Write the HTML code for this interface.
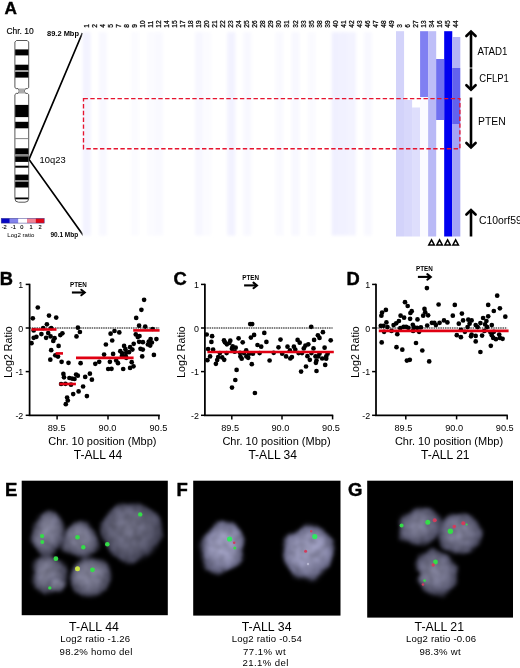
<!DOCTYPE html>
<html><head><meta charset="utf-8"><title>Figure</title>
<style>
html,body{margin:0;padding:0;background:#fff;}
svg{display:block;will-change:transform;}
text{font-family:"Liberation Sans",sans-serif;fill:#000;}
.b{font-weight:bold;}
</style></head><body>
<svg width="520" height="668" viewBox="0 0 520 668">
<defs>
<filter id="bl1" x="-10%" y="-10%" width="120%" height="120%" color-interpolation-filters="sRGB"><feGaussianBlur stdDeviation="1.6" result="b"/><feTurbulence type="fractalNoise" baseFrequency="0.045" numOctaves="2" seed="7" result="t"/><feDisplacementMap in="b" in2="t" scale="9" xChannelSelector="R" yChannelSelector="G" result="d"/><feTurbulence type="fractalNoise" baseFrequency="0.12" numOctaves="2" seed="3" result="t2"/><feColorMatrix in="t2" type="matrix" values="0 0 0 0 1  0 0 0 0 1  0 0 0 0 1  0.9 0 0 0 0.35" result="m"/><feComposite in="d" in2="m" operator="arithmetic" k1="0.55" k2="0.6" k3="0" k4="0" result="c"/><feGaussianBlur in="c" stdDeviation="1.5"/></filter>
<filter id="bl2" x="-50%" y="-50%" width="200%" height="200%"><feGaussianBlur stdDeviation="0.6"/></filter>
<filter id="bl4" x="-5%" y="-5%" width="110%" height="110%"><feGaussianBlur stdDeviation="1.6"/></filter>
<filter id="bl3" x="-5%" y="-5%" width="110%" height="110%"><feGaussianBlur stdDeviation="0.35"/></filter>
<radialGradient id="cell" cx="50%" cy="50%" r="52%" fx="40%" fy="38%"><stop offset="0" stop-color="#7c7c91"/><stop offset="0.55" stop-color="#6a6a7f"/><stop offset="0.85" stop-color="#4c4c5f"/><stop offset="1" stop-color="#2a2a38"/></radialGradient>
<radialGradient id="cellbig" cx="50%" cy="50%" r="52%" fx="42%" fy="40%"><stop offset="0" stop-color="#6a6a7e"/><stop offset="0.6" stop-color="#5c5c70"/><stop offset="0.88" stop-color="#444456"/><stop offset="1" stop-color="#242432"/></radialGradient>
<radialGradient id="cellb" cx="50%" cy="50%" r="52%" fx="45%" fy="42%"><stop offset="0" stop-color="#9494b2"/><stop offset="0.6" stop-color="#8484a2"/><stop offset="0.88" stop-color="#62627e"/><stop offset="1" stop-color="#38384c"/></radialGradient>
<radialGradient id="celld" cx="50%" cy="50%" r="52%" fx="45%" fy="42%"><stop offset="0" stop-color="#7a7a91"/><stop offset="0.6" stop-color="#68687f"/><stop offset="0.88" stop-color="#4c4c61"/><stop offset="1" stop-color="#2a2a3a"/></radialGradient>
</defs>
<rect width="520" height="668" fill="#fff"/>

<g id="panelA">
<text class="b" x="4.6" y="13.8" font-size="17.2" stroke="#000" stroke-width="0.4">A</text>
<text x="6.4" y="34.3" font-size="9.6" textLength="27.4" lengthAdjust="spacingAndGlyphs" stroke="#000" stroke-width="0.15">Chr. 10</text>
<text class="b" x="47" y="36.4" font-size="7.2" textLength="32" lengthAdjust="spacingAndGlyphs">89.2 Mbp</text>
<text class="b" x="50.4" y="236.8" font-size="7.2" textLength="27.8" lengthAdjust="spacingAndGlyphs">90.1 Mbp</text>
<text x="39.6" y="162.8" font-size="9.6" textLength="26" lengthAdjust="spacingAndGlyphs">10q23</text>
<path d="M82.4 33 L29.0 159.4 L83.2 235.2" fill="none" stroke="#000" stroke-width="1.7" stroke-linejoin="miter"/>
<g>
<path d="M14.9 42 L16.4 40.5 H27.2 L28.7 42 V87.6 L27.4 88.6 H25.6 L24.2 91 L25.6 93.4 H27.4 L28.7 94.6 V198.5 Q28.7 202.2 25 202.2 H18.6 Q14.9 202.2 14.9 198.5 V94.6 L16.2 93.4 H18 L19.4 91 L18 88.6 H16.2 L14.9 87.6 Z" fill="#fff" stroke="#3a3a3a" stroke-width="0.85"/>
<rect x="15.2" y="49.4" width="13.2" height="6.0" fill="#000"/>
<rect x="15.2" y="64.7" width="13.2" height="5.8" fill="#000"/>
<rect x="15.2" y="70.5" width="13.2" height="1.3" fill="#bbb"/>
<rect x="15.2" y="71.8" width="13.2" height="5.8" fill="#000"/>
<rect x="15.2" y="104.9" width="13.2" height="12.2" fill="#000"/>
<rect x="15.2" y="121.8" width="13.2" height="6.5" fill="#000"/>
<rect x="15.2" y="138.2" width="13.2" height="0.9" fill="#777"/>
<rect x="15.2" y="148.3" width="13.2" height="6.2" fill="#000"/>
<rect x="15.2" y="154.5" width="13.2" height="1.9" fill="#888"/>
<rect x="15.2" y="156.4" width="13.2" height="5.5" fill="#000"/>
<rect x="15.2" y="165.7" width="13.2" height="2.0" fill="#000"/>
<rect x="15.2" y="174.6" width="13.2" height="5.5" fill="#000"/>
<rect x="15.2" y="180.1" width="13.2" height="1.8" fill="#888"/>
<rect x="15.2" y="181.9" width="13.2" height="5.6" fill="#000"/>
<rect x="15.2" y="197.5" width="13.2" height="1.8" fill="#000"/>
<path d="M18 88.6 H25.6 L24.2 91 L25.6 93.4 H18 L19.4 91 Z" fill="#aaa"/>
</g>
<rect x="1.2" y="218.3" width="8.6" height="4.8" fill="#0808c4"/>
<rect x="9.8" y="218.3" width="8.6" height="4.8" fill="#8484ec"/>
<rect x="18.4" y="218.3" width="8.6" height="4.8" fill="#ffffff"/>
<rect x="27.0" y="218.3" width="8.6" height="4.8" fill="#f08496"/>
<rect x="35.6" y="218.3" width="8.6" height="4.8" fill="#e00818"/>
<rect x="1.2" y="218.3" width="43" height="4.8" fill="none" stroke="#3a3a90" stroke-width="0.5"/>
<text x="4.2" y="229.3" font-size="5.7" text-anchor="middle" stroke="#000" stroke-width="0.12">-2</text>
<text x="13.4" y="229.3" font-size="5.7" text-anchor="middle" stroke="#000" stroke-width="0.12">-1</text>
<text x="21.8" y="229.3" font-size="5.7" text-anchor="middle" stroke="#000" stroke-width="0.12">0</text>
<text x="31.1" y="229.3" font-size="5.7" text-anchor="middle" stroke="#000" stroke-width="0.12">1</text>
<text x="40" y="229.3" font-size="5.7" text-anchor="middle" stroke="#000" stroke-width="0.12">2</text>
<text x="7.3" y="236.5" font-size="5.4" textLength="27" lengthAdjust="spacingAndGlyphs">Log2 ratio</text>
<rect x="82.7" y="31.2" width="377.6" height="205.3" fill="#ffffff"/>
<g filter="url(#bl4)">
<rect x="82.70" y="32.2" width="8.03" height="203.3" fill="#f3f3ff"/>
<rect x="98.77" y="32.2" width="8.03" height="203.3" fill="#f8f8ff"/>
<rect x="130.90" y="32.2" width="8.03" height="203.3" fill="#fbfbff"/>
<rect x="146.96" y="32.2" width="8.03" height="203.3" fill="#fbfbff"/>
<rect x="155.00" y="32.2" width="8.03" height="203.3" fill="#f9f9ff"/>
<rect x="195.16" y="32.2" width="8.03" height="203.3" fill="#f7f7ff"/>
<rect x="203.19" y="32.2" width="8.03" height="203.3" fill="#fbfbff"/>
<rect x="227.29" y="32.2" width="8.03" height="203.3" fill="#f2f2ff"/>
<rect x="243.36" y="32.2" width="8.03" height="203.3" fill="#f8f8ff"/>
<rect x="275.49" y="32.2" width="8.03" height="203.3" fill="#f9f9ff"/>
<rect x="291.56" y="32.2" width="8.03" height="203.3" fill="#f8f8ff"/>
<rect x="307.62" y="32.2" width="8.03" height="203.3" fill="#fafaff"/>
<rect x="331.72" y="32.2" width="8.03" height="203.3" fill="#f0f0ff"/>
<rect x="339.76" y="32.2" width="8.03" height="203.3" fill="#f1f1ff"/>
<rect x="347.79" y="32.2" width="8.03" height="203.3" fill="#f3f3ff"/>
<rect x="363.85" y="32.2" width="8.03" height="203.3" fill="#f8f8ff"/>
</g>
<g filter="url(#bl3)">
<rect x="395.99" y="31.2" width="8.08" height="205.3" fill="#d3d3fa"/>
<rect x="404.02" y="100" width="8.08" height="136.5" fill="#d8d8fb"/>
<rect x="412.05" y="107.5" width="8.08" height="129.0" fill="#dedefc"/>
<rect x="420.09" y="31.2" width="8.08" height="65.8" fill="#8080f2"/>
<rect x="420.09" y="97" width="8.08" height="139.5" fill="#fbfbff"/>
<rect x="428.12" y="31.2" width="8.08" height="68.8" fill="#bebef8"/>
<rect x="428.12" y="100" width="8.08" height="136.5" fill="#b9b9f6"/>
<rect x="436.15" y="59" width="8.08" height="61.0" fill="#7070f0"/>
<rect x="444.18" y="31.2" width="8.08" height="205.3" fill="#0404f0"/>
<rect x="452.22" y="37" width="8.08" height="31.0" fill="#b4b4f6"/>
<rect x="452.22" y="68" width="8.08" height="56.0" fill="#6262ee"/>
<rect x="452.22" y="124" width="8.08" height="112.5" fill="#a4a4f6"/>
</g>
<text transform="translate(88.67 27.7) rotate(-90)" font-size="6.6" stroke="#000" stroke-width="0.25">1</text>
<text transform="translate(96.70 27.7) rotate(-90)" font-size="6.6" stroke="#000" stroke-width="0.25">2</text>
<text transform="translate(104.73 27.7) rotate(-90)" font-size="6.6" stroke="#000" stroke-width="0.25">4</text>
<text transform="translate(112.77 27.7) rotate(-90)" font-size="6.6" stroke="#000" stroke-width="0.25">5</text>
<text transform="translate(120.80 27.7) rotate(-90)" font-size="6.6" stroke="#000" stroke-width="0.25">7</text>
<text transform="translate(128.83 27.7) rotate(-90)" font-size="6.6" stroke="#000" stroke-width="0.25">8</text>
<text transform="translate(136.86 27.7) rotate(-90)" font-size="6.6" stroke="#000" stroke-width="0.25">9</text>
<text transform="translate(144.90 27.7) rotate(-90)" font-size="6.6" stroke="#000" stroke-width="0.25">10</text>
<text transform="translate(152.93 27.7) rotate(-90)" font-size="6.6" stroke="#000" stroke-width="0.25">11</text>
<text transform="translate(160.96 27.7) rotate(-90)" font-size="6.6" stroke="#000" stroke-width="0.25">12</text>
<text transform="translate(169.00 27.7) rotate(-90)" font-size="6.6" stroke="#000" stroke-width="0.25">14</text>
<text transform="translate(177.03 27.7) rotate(-90)" font-size="6.6" stroke="#000" stroke-width="0.25">15</text>
<text transform="translate(185.06 27.7) rotate(-90)" font-size="6.6" stroke="#000" stroke-width="0.25">17</text>
<text transform="translate(193.10 27.7) rotate(-90)" font-size="6.6" stroke="#000" stroke-width="0.25">18</text>
<text transform="translate(201.13 27.7) rotate(-90)" font-size="6.6" stroke="#000" stroke-width="0.25">19</text>
<text transform="translate(209.16 27.7) rotate(-90)" font-size="6.6" stroke="#000" stroke-width="0.25">20</text>
<text transform="translate(217.19 27.7) rotate(-90)" font-size="6.6" stroke="#000" stroke-width="0.25">21</text>
<text transform="translate(225.23 27.7) rotate(-90)" font-size="6.6" stroke="#000" stroke-width="0.25">22</text>
<text transform="translate(233.26 27.7) rotate(-90)" font-size="6.6" stroke="#000" stroke-width="0.25">23</text>
<text transform="translate(241.29 27.7) rotate(-90)" font-size="6.6" stroke="#000" stroke-width="0.25">24</text>
<text transform="translate(249.33 27.7) rotate(-90)" font-size="6.6" stroke="#000" stroke-width="0.25">25</text>
<text transform="translate(257.36 27.7) rotate(-90)" font-size="6.6" stroke="#000" stroke-width="0.25">26</text>
<text transform="translate(265.39 27.7) rotate(-90)" font-size="6.6" stroke="#000" stroke-width="0.25">28</text>
<text transform="translate(273.43 27.7) rotate(-90)" font-size="6.6" stroke="#000" stroke-width="0.25">29</text>
<text transform="translate(281.46 27.7) rotate(-90)" font-size="6.6" stroke="#000" stroke-width="0.25">30</text>
<text transform="translate(289.49 27.7) rotate(-90)" font-size="6.6" stroke="#000" stroke-width="0.25">31</text>
<text transform="translate(297.52 27.7) rotate(-90)" font-size="6.6" stroke="#000" stroke-width="0.25">32</text>
<text transform="translate(305.56 27.7) rotate(-90)" font-size="6.6" stroke="#000" stroke-width="0.25">33</text>
<text transform="translate(313.59 27.7) rotate(-90)" font-size="6.6" stroke="#000" stroke-width="0.25">35</text>
<text transform="translate(321.62 27.7) rotate(-90)" font-size="6.6" stroke="#000" stroke-width="0.25">38</text>
<text transform="translate(329.66 27.7) rotate(-90)" font-size="6.6" stroke="#000" stroke-width="0.25">39</text>
<text transform="translate(337.69 27.7) rotate(-90)" font-size="6.6" stroke="#000" stroke-width="0.25">40</text>
<text transform="translate(345.72 27.7) rotate(-90)" font-size="6.6" stroke="#000" stroke-width="0.25">41</text>
<text transform="translate(353.76 27.7) rotate(-90)" font-size="6.6" stroke="#000" stroke-width="0.25">42</text>
<text transform="translate(361.79 27.7) rotate(-90)" font-size="6.6" stroke="#000" stroke-width="0.25">43</text>
<text transform="translate(369.82 27.7) rotate(-90)" font-size="6.6" stroke="#000" stroke-width="0.25">46</text>
<text transform="translate(377.85 27.7) rotate(-90)" font-size="6.6" stroke="#000" stroke-width="0.25">47</text>
<text transform="translate(385.89 27.7) rotate(-90)" font-size="6.6" stroke="#000" stroke-width="0.25">48</text>
<text transform="translate(393.92 27.7) rotate(-90)" font-size="6.6" stroke="#000" stroke-width="0.25">49</text>
<text transform="translate(401.95 27.7) rotate(-90)" font-size="6.6" stroke="#000" stroke-width="0.25">3</text>
<text transform="translate(409.99 27.7) rotate(-90)" font-size="6.6" stroke="#000" stroke-width="0.25">6</text>
<text transform="translate(418.02 27.7) rotate(-90)" font-size="6.6" stroke="#000" stroke-width="0.25">27</text>
<text transform="translate(426.05 27.7) rotate(-90)" font-size="6.6" stroke="#000" stroke-width="0.25">13</text>
<text transform="translate(434.09 27.7) rotate(-90)" font-size="6.6" stroke="#000" stroke-width="0.25">34</text>
<text transform="translate(442.12 27.7) rotate(-90)" font-size="6.6" stroke="#000" stroke-width="0.25">16</text>
<text transform="translate(450.15 27.7) rotate(-90)" font-size="6.6" stroke="#000" stroke-width="0.25">45</text>
<text transform="translate(458.18 27.7) rotate(-90)" font-size="6.6" stroke="#000" stroke-width="0.25">44</text>
<rect x="83.5" y="98.6" width="376.4" height="50.1" fill="none" stroke="#e6142f" stroke-width="1.35" stroke-dasharray="4.4 2.4"/>
<path d="M431.54 239.9 L434.29 245.0 H428.79 Z" fill="#fff" stroke="#000" stroke-width="1.5" stroke-linejoin="miter"/>
<path d="M439.57 239.9 L442.32 245.0 H436.82 Z" fill="#fff" stroke="#000" stroke-width="1.5" stroke-linejoin="miter"/>
<path d="M447.60 239.9 L450.35 245.0 H444.85 Z" fill="#fff" stroke="#000" stroke-width="1.5" stroke-linejoin="miter"/>
<path d="M455.63 239.9 L458.38 245.0 H452.88 Z" fill="#fff" stroke="#000" stroke-width="1.5" stroke-linejoin="miter"/>
<path d="M471 67.6 V32" stroke="#000" stroke-width="2.6" fill="none"/>
<path d="M466.4 36 L471 31.6 L475.6 36" stroke="#000" stroke-width="2.6" fill="none" stroke-linecap="round" stroke-linejoin="miter"/>
<path d="M471 68.4 V89.2" stroke="#000" stroke-width="2.6" fill="none"/>
<path d="M466.4 85.2 L471 89.60000000000001 L475.6 85.2" stroke="#000" stroke-width="2.6" fill="none" stroke-linecap="round" stroke-linejoin="miter"/>
<path d="M471 97.5 V147" stroke="#000" stroke-width="2.6" fill="none"/>
<path d="M466.4 143 L471 147.4 L475.6 143" stroke="#000" stroke-width="2.6" fill="none" stroke-linecap="round" stroke-linejoin="miter"/>
<path d="M471 236.5 V210.5" stroke="#000" stroke-width="2.6" fill="none"/>
<path d="M466.4 214.5 L471 210.1 L475.6 214.5" stroke="#000" stroke-width="2.6" fill="none" stroke-linecap="round" stroke-linejoin="miter"/>
<text x="477.5" y="54.9" font-size="10.3" textLength="30" lengthAdjust="spacingAndGlyphs">ATAD1</text>
<text x="479.3" y="81.8" font-size="10.3" textLength="29.5" lengthAdjust="spacingAndGlyphs">CFLP1</text>
<text x="478" y="124.8" font-size="10.4">PTEN</text>
<text x="479" y="223.8" font-size="10.4">C10orf59</text>
</g>
<g>
<text class="b" x="-0.3" y="284.7" font-size="18.3" stroke="#000" stroke-width="0.45">B</text>
<path d="M29.6 283.8 V415.3 H159.79999999999998" fill="none" stroke="#000" stroke-width="1.75"/>
<path d="M25.700000000000003 284.4 H29.6" stroke="#000" stroke-width="1.5"/>
<text x="23.3" y="287.9" font-size="8.9" text-anchor="end">1</text>
<path d="M25.700000000000003 328 H29.6" stroke="#000" stroke-width="1.5"/>
<text x="23.3" y="331.5" font-size="8.9" text-anchor="end">0</text>
<path d="M25.700000000000003 371.6 H29.6" stroke="#000" stroke-width="1.5"/>
<text x="23.3" y="375.1" font-size="8.9" text-anchor="end">-1</text>
<path d="M25.700000000000003 415.3 H29.6" stroke="#000" stroke-width="1.5"/>
<text x="23.3" y="418.8" font-size="8.9" text-anchor="end">-2</text>
<path d="M57.1 415.3 V419.4" stroke="#000" stroke-width="1.5"/>
<text x="56.6" y="431.4" font-size="9.2" text-anchor="middle">89.5</text>
<path d="M108 415.3 V419.4" stroke="#000" stroke-width="1.5"/>
<text x="107.5" y="431.4" font-size="9.2" text-anchor="middle">90.0</text>
<path d="M158.9 415.3 V419.4" stroke="#000" stroke-width="1.5"/>
<text x="158.4" y="431.4" font-size="9.2" text-anchor="middle">90.5</text>
<path d="M29.6 328 H159.2" stroke="#000" stroke-width="1.0" stroke-dasharray="1.5 0.8"/>
<text transform="translate(12.2 377.8) rotate(-90)" font-size="10.6" textLength="51.5" lengthAdjust="spacing">Log2 Ratio</text>
<text class="b" x="78.4" y="286.8" font-size="7" text-anchor="middle" textLength="16.8" lengthAdjust="spacingAndGlyphs">PTEN</text>
<path d="M71.90 292.5 H84.20" stroke="#000" stroke-width="2.1" fill="none"/>
<path d="M81.30 289.7 L84.80 292.5 L81.30 295.3" stroke="#000" stroke-width="2.0" fill="none" stroke-linecap="round" stroke-linejoin="miter"/>
<g fill="#000"><circle cx="37.8" cy="307.5" r="2.35"/><circle cx="32.8" cy="318.3" r="2.35"/><circle cx="49" cy="315.6" r="2.35"/><circle cx="56.2" cy="317.6" r="2.35"/><circle cx="46.9" cy="324.3" r="2.35"/><circle cx="43.2" cy="328.1" r="2.35"/><circle cx="51.2" cy="328.1" r="2.35"/><circle cx="33.7" cy="330.4" r="2.35"/><circle cx="41.4" cy="334.1" r="2.35"/><circle cx="48.2" cy="333.1" r="2.35"/><circle cx="36.4" cy="336.8" r="2.35"/><circle cx="33.7" cy="337.8" r="2.35"/><circle cx="46.1" cy="337.8" r="2.35"/><circle cx="50.6" cy="336.4" r="2.35"/><circle cx="54.6" cy="338.2" r="2.35"/><circle cx="53.3" cy="340.9" r="2.35"/><circle cx="31.5" cy="343.2" r="2.35"/><circle cx="60.3" cy="335.1" r="2.35"/><circle cx="62.4" cy="333.3" r="2.35"/><circle cx="58.6" cy="345.9" r="2.35"/><circle cx="51.2" cy="350.2" r="2.35"/><circle cx="55.3" cy="355.3" r="2.35"/><circle cx="58" cy="356.6" r="2.35"/><circle cx="50.3" cy="359.7" r="2.35"/><circle cx="77.9" cy="327.7" r="2.35"/><circle cx="79.9" cy="332" r="2.35"/><circle cx="76.5" cy="336.4" r="2.35"/><circle cx="61.6" cy="361.8" r="2.35"/><circle cx="68.5" cy="362.8" r="2.35"/><circle cx="80.6" cy="363.2" r="2.35"/><circle cx="95.3" cy="363.8" r="2.35"/><circle cx="63.4" cy="373.9" r="2.35"/><circle cx="64" cy="377.3" r="2.35"/><circle cx="69.4" cy="378" r="2.35"/><circle cx="72.1" cy="378.6" r="2.35"/><circle cx="74.5" cy="379" r="2.35"/><circle cx="76.1" cy="374.6" r="2.35"/><circle cx="77.8" cy="375.7" r="2.35"/><circle cx="85.2" cy="376.9" r="2.35"/><circle cx="89.9" cy="373.7" r="2.35"/><circle cx="91.9" cy="379.7" r="2.35"/><circle cx="61.1" cy="384" r="2.35"/><circle cx="65.4" cy="383.8" r="2.35"/><circle cx="71" cy="384.7" r="2.35"/><circle cx="83.1" cy="386.5" r="2.35"/><circle cx="78.6" cy="391.4" r="2.35"/><circle cx="73.2" cy="394.1" r="2.35"/><circle cx="86.9" cy="396.1" r="2.35"/><circle cx="67.1" cy="397.5" r="2.35"/><circle cx="67.8" cy="400.5" r="2.35"/><circle cx="65.8" cy="404.2" r="2.35"/><circle cx="144.1" cy="299.8" r="2.35"/><circle cx="141.4" cy="309.8" r="2.35"/><circle cx="136.2" cy="317.9" r="2.35"/><circle cx="139.1" cy="325.7" r="2.35"/><circle cx="145.2" cy="326.6" r="2.35"/><circle cx="152.6" cy="329" r="2.35"/><circle cx="114.5" cy="331" r="2.35"/><circle cx="110.6" cy="333.7" r="2.35"/><circle cx="119.3" cy="332.4" r="2.35"/><circle cx="135.8" cy="334.4" r="2.35"/><circle cx="137.8" cy="337.1" r="2.35"/><circle cx="139.5" cy="336" r="2.35"/><circle cx="112.2" cy="340.5" r="2.35"/><circle cx="105.9" cy="344.5" r="2.35"/><circle cx="156.4" cy="339.1" r="2.35"/><circle cx="150.6" cy="339.1" r="2.35"/><circle cx="148.8" cy="341.5" r="2.35"/><circle cx="151.9" cy="342.5" r="2.35"/><circle cx="147.9" cy="344.5" r="2.35"/><circle cx="150.2" cy="345.6" r="2.35"/><circle cx="139.1" cy="341.8" r="2.35"/><circle cx="142.9" cy="342.2" r="2.35"/><circle cx="133.7" cy="343.8" r="2.35"/><circle cx="124.1" cy="345.9" r="2.35"/><circle cx="130.1" cy="347.2" r="2.35"/><circle cx="125.4" cy="349.2" r="2.35"/><circle cx="132.4" cy="349.6" r="2.35"/><circle cx="140.5" cy="348.8" r="2.35"/><circle cx="142.8" cy="349.6" r="2.35"/><circle cx="120.3" cy="351.2" r="2.35"/><circle cx="122.3" cy="353.3" r="2.35"/><circle cx="126.3" cy="352.6" r="2.35"/><circle cx="129" cy="352.2" r="2.35"/><circle cx="113.1" cy="353.9" r="2.35"/><circle cx="104.1" cy="354.6" r="2.35"/><circle cx="153.9" cy="354.9" r="2.35"/><circle cx="142.2" cy="356.4" r="2.35"/><circle cx="125.7" cy="356" r="2.35"/><circle cx="121.9" cy="356" r="2.35"/><circle cx="99.2" cy="361.8" r="2.35"/><circle cx="109.9" cy="361.8" r="2.35"/><circle cx="116.2" cy="360.5" r="2.35"/><circle cx="118" cy="363.2" r="2.35"/><circle cx="131.7" cy="362.2" r="2.35"/><circle cx="133.5" cy="366.3" r="2.35"/><circle cx="130.1" cy="367.9" r="2.35"/><circle cx="123.2" cy="369" r="2.35"/><circle cx="108.2" cy="369" r="2.35"/><circle cx="111.5" cy="368.8" r="2.35"/><circle cx="126.3" cy="357.8" r="2.35"/></g>
<path d="M31.5 329.5 H56.5" stroke="#e00012" stroke-width="2.6"/>
<path d="M55.6 353.4 H63" stroke="#e00012" stroke-width="2.6"/>
<path d="M59.3 384 H75.9" stroke="#e00012" stroke-width="2.6"/>
<path d="M76 357.9 H133.6" stroke="#e00012" stroke-width="2.6"/>
<path d="M133.2 330.4 H159.6" stroke="#e00012" stroke-width="2.6"/>
<text x="48.300000000000004" y="444.9" font-size="10.6" textLength="108.2" lengthAdjust="spacingAndGlyphs">Chr. 10 position (Mbp)</text>
<text x="98" y="459.1" font-size="12.1" text-anchor="middle">T-ALL 44</text>
</g>
<g>
<text class="b" x="173.6" y="284.7" font-size="18.3" stroke="#000" stroke-width="0.45">C</text>
<path d="M204.9 283.8 V415.3 H333.20000000000005" fill="none" stroke="#000" stroke-width="1.75"/>
<path d="M201.0 284.4 H204.9" stroke="#000" stroke-width="1.5"/>
<text x="198.9" y="287.9" font-size="8.9" text-anchor="end">1</text>
<path d="M201.0 328 H204.9" stroke="#000" stroke-width="1.5"/>
<text x="198.9" y="331.5" font-size="8.9" text-anchor="end">0</text>
<path d="M201.0 371.6 H204.9" stroke="#000" stroke-width="1.5"/>
<text x="198.9" y="375.1" font-size="8.9" text-anchor="end">-1</text>
<path d="M201.0 415.3 H204.9" stroke="#000" stroke-width="1.5"/>
<text x="198.9" y="418.8" font-size="8.9" text-anchor="end">-2</text>
<path d="M231.8 415.3 V419.4" stroke="#000" stroke-width="1.5"/>
<text x="230.20000000000002" y="431.4" font-size="9.2" text-anchor="middle">89.5</text>
<path d="M282 415.3 V419.4" stroke="#000" stroke-width="1.5"/>
<text x="280.4" y="431.4" font-size="9.2" text-anchor="middle">90.0</text>
<path d="M332.6 415.3 V419.4" stroke="#000" stroke-width="1.5"/>
<text x="331.0" y="431.4" font-size="9.2" text-anchor="middle">90.5</text>
<path d="M204.9 328 H332.6" stroke="#000" stroke-width="1.0" stroke-dasharray="1.5 0.8"/>
<text transform="translate(184.6 377.8) rotate(-90)" font-size="10.6" textLength="51.5" lengthAdjust="spacing">Log2 Ratio</text>
<text class="b" x="250.6" y="279.7" font-size="7" text-anchor="middle" textLength="16.8" lengthAdjust="spacingAndGlyphs">PTEN</text>
<path d="M244.10 285.4 H256.40" stroke="#000" stroke-width="2.1" fill="none"/>
<path d="M253.50 282.59999999999997 L257.00 285.4 L253.50 288.2" stroke="#000" stroke-width="2.0" fill="none" stroke-linecap="round" stroke-linejoin="miter"/>
<g fill="#000"><circle cx="250.2" cy="324.1" r="2.35"/><circle cx="252.2" cy="324.1" r="2.35"/><circle cx="206.7" cy="334.5" r="2.35"/><circle cx="212.1" cy="336.2" r="2.35"/><circle cx="211.4" cy="341.9" r="2.35"/><circle cx="264.3" cy="332.9" r="2.35"/><circle cx="254.1" cy="334.9" r="2.35"/><circle cx="250.9" cy="337.6" r="2.35"/><circle cx="238.6" cy="338.3" r="2.35"/><circle cx="266.4" cy="341.9" r="2.35"/><circle cx="224" cy="340.3" r="2.35"/><circle cx="224.9" cy="342.3" r="2.35"/><circle cx="230.3" cy="340.7" r="2.35"/><circle cx="229.3" cy="343" r="2.35"/><circle cx="226.9" cy="344.3" r="2.35"/><circle cx="242.7" cy="342.3" r="2.35"/><circle cx="257.5" cy="345" r="2.35"/><circle cx="261.2" cy="346.7" r="2.35"/><circle cx="232.7" cy="346.3" r="2.35"/><circle cx="235.7" cy="347.7" r="2.35"/><circle cx="231.9" cy="348.8" r="2.35"/><circle cx="208.1" cy="349" r="2.35"/><circle cx="213.1" cy="349.7" r="2.35"/><circle cx="246.2" cy="350.4" r="2.35"/><circle cx="234.7" cy="351.7" r="2.35"/><circle cx="219.9" cy="353.1" r="2.35"/><circle cx="226.6" cy="353.1" r="2.35"/><circle cx="240" cy="352.8" r="2.35"/><circle cx="244" cy="353.1" r="2.35"/><circle cx="249.1" cy="353.7" r="2.35"/><circle cx="252.9" cy="353.7" r="2.35"/><circle cx="259.6" cy="353.1" r="2.35"/><circle cx="210.1" cy="356.4" r="2.35"/><circle cx="218.2" cy="357.1" r="2.35"/><circle cx="222.2" cy="357.4" r="2.35"/><circle cx="240.4" cy="356.4" r="2.35"/><circle cx="246.4" cy="356.4" r="2.35"/><circle cx="248.2" cy="357.8" r="2.35"/><circle cx="241.7" cy="358.7" r="2.35"/><circle cx="207.4" cy="360.2" r="2.35"/><circle cx="217.2" cy="360.1" r="2.35"/><circle cx="224.2" cy="359.8" r="2.35"/><circle cx="215.9" cy="363.8" r="2.35"/><circle cx="251.8" cy="364.2" r="2.35"/><circle cx="269.6" cy="360.5" r="2.35"/><circle cx="236.6" cy="369.9" r="2.35"/><circle cx="235.3" cy="380" r="2.35"/><circle cx="232" cy="387.6" r="2.35"/><circle cx="254.9" cy="393" r="2.35"/><circle cx="311.2" cy="326.8" r="2.35"/><circle cx="322.9" cy="332.2" r="2.35"/><circle cx="317.9" cy="335.3" r="2.35"/><circle cx="319.5" cy="337.9" r="2.35"/><circle cx="314.1" cy="339.9" r="2.35"/><circle cx="330.7" cy="340.3" r="2.35"/><circle cx="280.5" cy="339.6" r="2.35"/><circle cx="297.6" cy="339.9" r="2.35"/><circle cx="299.7" cy="342.7" r="2.35"/><circle cx="308.3" cy="344.3" r="2.35"/><circle cx="305.4" cy="345.7" r="2.35"/><circle cx="278.5" cy="347.3" r="2.35"/><circle cx="287.5" cy="346.7" r="2.35"/><circle cx="293.9" cy="346.7" r="2.35"/><circle cx="303.8" cy="348.4" r="2.35"/><circle cx="313.5" cy="348.4" r="2.35"/><circle cx="324.6" cy="347.7" r="2.35"/><circle cx="295.3" cy="349.7" r="2.35"/><circle cx="289.9" cy="350.4" r="2.35"/><circle cx="273.7" cy="352.8" r="2.35"/><circle cx="282.2" cy="353.7" r="2.35"/><circle cx="298.6" cy="353.1" r="2.35"/><circle cx="302" cy="353.1" r="2.35"/><circle cx="311.4" cy="353.1" r="2.35"/><circle cx="319.5" cy="353.7" r="2.35"/><circle cx="327.6" cy="353.7" r="2.35"/><circle cx="286.1" cy="356.4" r="2.35"/><circle cx="291.9" cy="357.1" r="2.35"/><circle cx="290.3" cy="358.5" r="2.35"/><circle cx="307.4" cy="356.2" r="2.35"/><circle cx="315.5" cy="356.4" r="2.35"/><circle cx="318.2" cy="356.4" r="2.35"/><circle cx="326.2" cy="356.4" r="2.35"/><circle cx="322.2" cy="358.5" r="2.35"/><circle cx="326.2" cy="358.7" r="2.35"/><circle cx="309.8" cy="359.8" r="2.35"/><circle cx="316.5" cy="360.5" r="2.35"/><circle cx="315.9" cy="362.8" r="2.35"/><circle cx="325.2" cy="364.9" r="2.35"/><circle cx="306" cy="366.5" r="2.35"/><circle cx="301.1" cy="371.6" r="2.35"/><circle cx="316.5" cy="371" r="2.35"/></g>
<path d="M207.4 352 H333.8" stroke="#e00012" stroke-width="2.6"/>
<text x="222.4" y="444.9" font-size="10.6" textLength="108.2" lengthAdjust="spacingAndGlyphs">Chr. 10 position (Mbp)</text>
<text x="272.7" y="459.1" font-size="12.1" text-anchor="middle">T-ALL 34</text>
</g>
<g>
<text class="b" x="346.6" y="284.7" font-size="18.3" stroke="#000" stroke-width="0.45">D</text>
<path d="M376 283.8 V415.3 H507.8" fill="none" stroke="#000" stroke-width="1.75"/>
<path d="M372.1 284.4 H376" stroke="#000" stroke-width="1.5"/>
<text x="370.2" y="287.9" font-size="8.9" text-anchor="end">1</text>
<path d="M372.1 328 H376" stroke="#000" stroke-width="1.5"/>
<text x="370.2" y="331.5" font-size="8.9" text-anchor="end">0</text>
<path d="M372.1 371.6 H376" stroke="#000" stroke-width="1.5"/>
<text x="370.2" y="375.1" font-size="8.9" text-anchor="end">-1</text>
<path d="M372.1 415.3 H376" stroke="#000" stroke-width="1.5"/>
<text x="370.2" y="418.8" font-size="8.9" text-anchor="end">-2</text>
<path d="M405.8 415.3 V419.4" stroke="#000" stroke-width="1.5"/>
<text x="403.40000000000003" y="431.4" font-size="9.2" text-anchor="middle">89.5</text>
<path d="M456.6 415.3 V419.4" stroke="#000" stroke-width="1.5"/>
<text x="454.20000000000005" y="431.4" font-size="9.2" text-anchor="middle">90.0</text>
<path d="M507.2 415.3 V419.4" stroke="#000" stroke-width="1.5"/>
<text x="504.8" y="431.4" font-size="9.2" text-anchor="middle">90.5</text>
<path d="M376 328 H507.2" stroke="#000" stroke-width="1.0" stroke-dasharray="1.5 0.8"/>
<text transform="translate(359 377.8) rotate(-90)" font-size="10.6" textLength="51.5" lengthAdjust="spacing">Log2 Ratio</text>
<text class="b" x="424.4" y="271.2" font-size="7" text-anchor="middle" textLength="16.8" lengthAdjust="spacingAndGlyphs">PTEN</text>
<path d="M417.90 276.9 H430.20" stroke="#000" stroke-width="2.1" fill="none"/>
<path d="M427.30 274.09999999999997 L430.80 276.9 L427.30 279.7" stroke="#000" stroke-width="2.0" fill="none" stroke-linecap="round" stroke-linejoin="miter"/>
<g fill="#000"><circle cx="426.9" cy="288.1" r="2.35"/><circle cx="405" cy="302.2" r="2.35"/><circle cx="407.7" cy="306" r="2.35"/><circle cx="438.6" cy="304.5" r="2.35"/><circle cx="385.9" cy="309.9" r="2.35"/><circle cx="382.1" cy="312.6" r="2.35"/><circle cx="381.4" cy="315.7" r="2.35"/><circle cx="411.7" cy="311.2" r="2.35"/><circle cx="410.4" cy="313" r="2.35"/><circle cx="424.5" cy="308.9" r="2.35"/><circle cx="425.2" cy="312.3" r="2.35"/><circle cx="423.2" cy="315.7" r="2.35"/><circle cx="428.1" cy="315.3" r="2.35"/><circle cx="400.6" cy="315.7" r="2.35"/><circle cx="404.1" cy="317.7" r="2.35"/><circle cx="410.1" cy="318.8" r="2.35"/><circle cx="417.5" cy="319.4" r="2.35"/><circle cx="398.9" cy="321" r="2.35"/><circle cx="386.4" cy="322.4" r="2.35"/><circle cx="396.2" cy="323.3" r="2.35"/><circle cx="393.6" cy="325.1" r="2.35"/><circle cx="380.8" cy="325.8" r="2.35"/><circle cx="383.5" cy="325.8" r="2.35"/><circle cx="431.9" cy="322.8" r="2.35"/><circle cx="434.3" cy="322.8" r="2.35"/><circle cx="435.9" cy="325.1" r="2.35"/><circle cx="427.2" cy="325.5" r="2.35"/><circle cx="439.6" cy="322.8" r="2.35"/><circle cx="412.8" cy="324.8" r="2.35"/><circle cx="387.5" cy="327.1" r="2.35"/><circle cx="403.6" cy="326.8" r="2.35"/><circle cx="406.1" cy="326.8" r="2.35"/><circle cx="400.3" cy="328.2" r="2.35"/><circle cx="408.4" cy="327.8" r="2.35"/><circle cx="414.1" cy="327.4" r="2.35"/><circle cx="417.1" cy="327.8" r="2.35"/><circle cx="420.9" cy="327.4" r="2.35"/><circle cx="384.1" cy="331.8" r="2.35"/><circle cx="391.5" cy="330.9" r="2.35"/><circle cx="397.3" cy="334.2" r="2.35"/><circle cx="413.1" cy="330.9" r="2.35"/><circle cx="419.1" cy="331.8" r="2.35"/><circle cx="381.7" cy="342.4" r="2.35"/><circle cx="416" cy="343" r="2.35"/><circle cx="396.5" cy="347.2" r="2.35"/><circle cx="402.3" cy="349.7" r="2.35"/><circle cx="422.3" cy="350.5" r="2.35"/><circle cx="497.2" cy="295.7" r="2.35"/><circle cx="454.8" cy="304.9" r="2.35"/><circle cx="488.2" cy="304.9" r="2.35"/><circle cx="499.9" cy="308.3" r="2.35"/><circle cx="493.8" cy="311" r="2.35"/><circle cx="461.9" cy="313.6" r="2.35"/><circle cx="452.8" cy="315.7" r="2.35"/><circle cx="488.2" cy="316.3" r="2.35"/><circle cx="505.3" cy="316.7" r="2.35"/><circle cx="483.1" cy="318" r="2.35"/><circle cx="444" cy="320.4" r="2.35"/><circle cx="447.4" cy="322.4" r="2.35"/><circle cx="463.1" cy="320.4" r="2.35"/><circle cx="468.3" cy="319.7" r="2.35"/><circle cx="471.6" cy="320.4" r="2.35"/><circle cx="458.8" cy="323.7" r="2.35"/><circle cx="469.6" cy="323.7" r="2.35"/><circle cx="486.4" cy="321" r="2.35"/><circle cx="480.4" cy="323.1" r="2.35"/><circle cx="475.7" cy="325.1" r="2.35"/><circle cx="485.1" cy="324.4" r="2.35"/><circle cx="491.8" cy="325.1" r="2.35"/><circle cx="467.6" cy="327.1" r="2.35"/><circle cx="477.7" cy="327.1" r="2.35"/><circle cx="487.1" cy="327.1" r="2.35"/><circle cx="460.9" cy="329.8" r="2.35"/><circle cx="464.9" cy="331.8" r="2.35"/><circle cx="484.4" cy="330.9" r="2.35"/><circle cx="490.5" cy="332.5" r="2.35"/><circle cx="493.8" cy="331.8" r="2.35"/><circle cx="456.8" cy="335.2" r="2.35"/><circle cx="460.9" cy="337.2" r="2.35"/><circle cx="471.6" cy="334.5" r="2.35"/><circle cx="471" cy="336.3" r="2.35"/><circle cx="475.7" cy="335.9" r="2.35"/><circle cx="482.1" cy="335.6" r="2.35"/><circle cx="491.8" cy="335.2" r="2.35"/><circle cx="499.2" cy="334.5" r="2.35"/><circle cx="493.2" cy="337.9" r="2.35"/><circle cx="495.9" cy="339.2" r="2.35"/><circle cx="499.9" cy="337.9" r="2.35"/><circle cx="502.6" cy="338.8" r="2.35"/><circle cx="475.7" cy="341.4" r="2.35"/><circle cx="490.8" cy="345.8" r="2.35"/><circle cx="406.9" cy="360.6" r="2.35"/><circle cx="409.8" cy="359.8" r="2.35"/><circle cx="429.2" cy="361.4" r="2.35"/><circle cx="480.4" cy="352" r="2.35"/></g>
<path d="M378.8 330.9 H508.6" stroke="#e00012" stroke-width="2.6"/>
<text x="394.9" y="444.9" font-size="10.6" textLength="108.2" lengthAdjust="spacingAndGlyphs">Chr. 10 position (Mbp)</text>
<text x="445.3" y="459.1" font-size="12.1" text-anchor="middle">T-ALL 21</text>
</g>
<g>
<text class="b" x="5.1" y="495.7" font-size="18.5" stroke="#000" stroke-width="0.45">E</text>
<rect x="21.7" y="480.7" width="146.1" height="134.5" fill="#000"/>
<clipPath id="cpE"><rect x="21.7" y="480.7" width="146.1" height="134.5"/></clipPath>
<g clip-path="url(#cpE)">
<g filter="url(#bl1)">
<ellipse cx="47.3" cy="534" rx="16.5" ry="22.5" transform="rotate(8 47.3 534)" fill="url(#cell)"/>
<ellipse cx="80.5" cy="540.5" rx="17.8" ry="17.8" transform="rotate(0 80.5 540.5)" fill="url(#cell)"/>
<ellipse cx="131.6" cy="531.7" rx="29.8" ry="30.2" transform="rotate(0 131.6 531.7)" fill="url(#cellbig)"/>
<ellipse cx="49" cy="574.5" rx="18" ry="19.5" transform="rotate(-20 49 574.5)" fill="url(#cell)"/>
<ellipse cx="58" cy="586" rx="9" ry="8" transform="rotate(0 58 586)" fill="url(#cell)"/>
<ellipse cx="91" cy="577" rx="20.2" ry="19.8" transform="rotate(0 91 577)" fill="url(#cell)"/>
</g>
<g filter="url(#bl2)">
<circle cx="42.1" cy="536.1" r="2.1" fill="#34dc48"/>
<circle cx="42.3" cy="541.9" r="2.0" fill="#34dc48"/>
<circle cx="77.5" cy="537.3" r="2.3" fill="#34dc48"/>
<circle cx="83.3" cy="547.3" r="2.2" fill="#34dc48"/>
<circle cx="107.3" cy="544.2" r="2.3" fill="#34dc48"/>
<circle cx="140.2" cy="514.4" r="2.2" fill="#34dc48"/>
<circle cx="55.9" cy="558.7" r="2.4" fill="#34dc48"/>
<circle cx="77.5" cy="568.8" r="2.5" fill="#cce444"/>
<circle cx="92.5" cy="569.8" r="2.4" fill="#34dc48"/>
<circle cx="49.8" cy="587.9" r="1.7" fill="#34dc48"/>
</g></g>
<text x="69.1" y="630.5" font-size="12.3" textLength="49.8" lengthAdjust="spacing">T-ALL 44</text>
<text x="60.2" y="642.2" font-size="9.6" textLength="70" lengthAdjust="spacing">Log2 ratio -1.26</text>
<text x="59.6" y="654.5" font-size="9.6" textLength="72.7" lengthAdjust="spacing">98.2% homo del</text>
</g>
<g>
<text class="b" x="176.6" y="495.7" font-size="18.5" stroke="#000" stroke-width="0.45">F</text>
<rect x="193.2" y="480.7" width="147.3" height="134.9" fill="#000"/>
<clipPath id="cpF"><rect x="193.2" y="480.7" width="147.3" height="134.9"/></clipPath>
<g clip-path="url(#cpF)">
<g filter="url(#bl1)">
<ellipse cx="222.7" cy="548" rx="21.2" ry="25.8" transform="rotate(15 222.7 548)" fill="url(#cellb)"/>
<ellipse cx="308" cy="552.7" rx="25.6" ry="27.4" transform="rotate(0 308 552.7)" fill="url(#cellb)"/>
</g>
<g filter="url(#bl2)">
<circle cx="229.6" cy="539" r="2.6" fill="#30e860"/>
<circle cx="234.2" cy="542.7" r="1.3" fill="#d03c5c"/>
<circle cx="234.8" cy="548" r="1.5" fill="#34dc48"/>
<circle cx="314.8" cy="536.5" r="2.6" fill="#30e860"/>
<circle cx="311.2" cy="531.3" r="1.2" fill="#d03c5c"/>
<circle cx="305.6" cy="551.3" r="1.5" fill="#d03c5c"/>
<circle cx="308" cy="564" r="1.2" fill="#b8b8d0"/>
</g></g>
<text x="241.7" y="630.8" font-size="12.3" textLength="49.8" lengthAdjust="spacing">T-ALL 34</text>
<text x="231.8" y="642.2" font-size="9.6" textLength="70" lengthAdjust="spacing">Log2 ratio -0.54</text>
<text x="243.1" y="654.5" font-size="9.6" textLength="42.5" lengthAdjust="spacing">77.1% wt</text>
<text x="242.5" y="665.9" font-size="9.6" textLength="45.8" lengthAdjust="spacing">21.1% del</text>
</g>
<g>
<text class="b" x="348" y="495.7" font-size="18.5" stroke="#000" stroke-width="0.45">G</text>
<rect x="367.2" y="480.7" width="145.8" height="136.9" fill="#000"/>
<clipPath id="cpG"><rect x="367.2" y="480.7" width="145.8" height="136.9"/></clipPath>
<g clip-path="url(#cpG)">
<g filter="url(#bl1)">
<ellipse cx="419.5" cy="526.5" rx="21.5" ry="19.6" transform="rotate(-8 419.5 526.5)" fill="url(#celld)"/>
<ellipse cx="460.5" cy="533.5" rx="21.5" ry="20.4" transform="rotate(10 460.5 533.5)" fill="url(#celld)"/>
<ellipse cx="435.8" cy="573.5" rx="20" ry="24.5" transform="rotate(-15 435.8 573.5)" fill="url(#celld)"/>
<ellipse cx="414.8" cy="574.5" rx="4.5" ry="3.2" transform="rotate(-20 414.8 574.5)" fill="#000"/>
</g>
<g filter="url(#bl2)">
<circle cx="401.6" cy="525.5" r="2.0" fill="#34dc48"/>
<circle cx="427.8" cy="522.3" r="2.5" fill="#34dc48"/>
<circle cx="434.7" cy="520.2" r="2.0" fill="#d03c5c"/>
<circle cx="450.4" cy="531.2" r="2.7" fill="#34dc48"/>
<circle cx="454.3" cy="526.6" r="1.8" fill="#d03c5c"/>
<circle cx="463.3" cy="523.2" r="2.0" fill="#d03c5c"/>
<circle cx="466.6" cy="524.4" r="1.0" fill="#34dc48"/>
<circle cx="435.5" cy="562" r="2.4" fill="#34dc48"/>
<circle cx="433.2" cy="565" r="1.7" fill="#d03c5c"/>
<circle cx="424.6" cy="580.6" r="1.3" fill="#34dc48"/>
<circle cx="423" cy="584.5" r="1.3" fill="#d03c5c"/>
</g></g>
<text x="414.6" y="631.2" font-size="12.3" textLength="49.4" lengthAdjust="spacing">T-ALL 21</text>
<text x="406" y="642.4" font-size="9.6" textLength="70" lengthAdjust="spacing">Log2 ratio -0.06</text>
<text x="419.4" y="654.9" font-size="9.6" textLength="41.2" lengthAdjust="spacing">98.3% wt</text>
</g>
</svg></body></html>
